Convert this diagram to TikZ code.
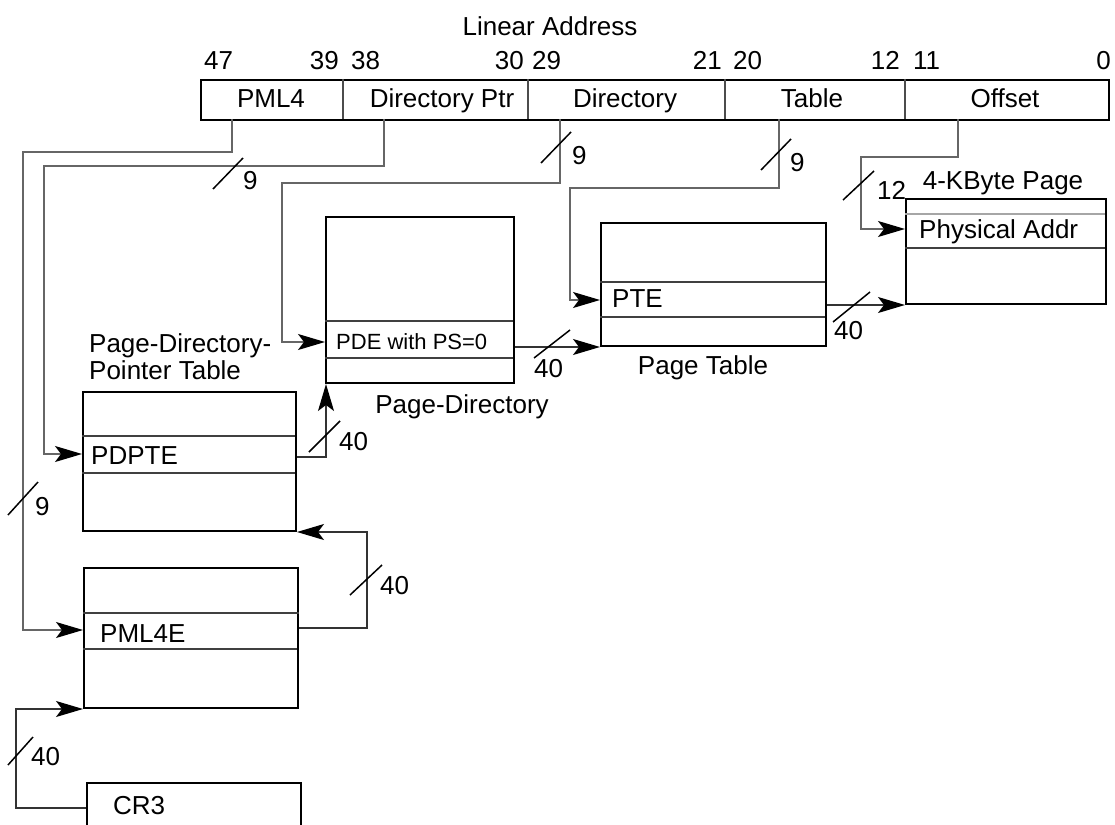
\documentclass[tikz,border=0pt]{standalone}
\usepackage{fontspec}
\setmainfont{Liberation Sans}
\usetikzlibrary{arrows.meta,calc}
\begin{document}
\begin{tikzpicture}[x=1pt,y=-1pt,
  box/.style={draw=black,line width=2pt,inner sep=0pt,anchor=north west},
  row/.style={draw=black!75,line width=1.4pt},
  wire/.style={draw=black!60,line width=1.3pt},
  arr/.style={-{Stealth[length=27pt,width=16pt,inset=6pt,black]}},
  txt/.style={font=\fontsize{26}{27}\selectfont,inner sep=0pt},
  small/.style={font=\fontsize{22}{26}\selectfont,inner sep=0pt},
  slashln/.style={draw=black,line width=1.5pt}]
\useasboundingbox (0,0) rectangle (1115,824);

% ---------- linear address bar ----------
\node[txt,anchor=base] (title) at (550,36) {Linear Address};
\node[box,line width=1.6pt,minimum width=908pt,minimum height=40pt] (bar) at (200,79) {};
\foreach \x in {343,528,725,905} \draw[draw=black!70,line width=1.2pt] (\x,79) -- (\x,119);
\node[txt,anchor=base west] (b47) at (204,70) {47};
\node[txt,anchor=base east] (b39) at (339,70) {39};
\node[txt,anchor=base west] (b38) at (351,70) {38};
\node[txt,anchor=base east] (b30) at (524,70) {30};
\node[txt,anchor=base west] (b29) at (532,70) {29};
\node[txt,anchor=base east] (b21) at (722,70) {21};
\node[txt,anchor=base west] (b20) at (733,70) {20};
\node[txt,anchor=base east] (b12) at (900,70) {12};
\node[txt,anchor=base west] (b11) at (913,70) {11};
\node[txt,anchor=base east] (b0) at (1111,70) {0};
\node[txt,anchor=base] (fPML4) at (271,108) {PML4};
\node[txt,anchor=base] (fDP) at (442,108) {Directory Ptr};
\node[txt,anchor=base] (fDir) at (625,108) {Directory};
\node[txt,anchor=base] (fTab) at (812,108) {Table};
\node[txt,anchor=base] (fOff) at (1005,108) {Offset};
\coordinate (tPML4) at (232,119);
\coordinate (tDP) at (384,119);
\coordinate (tDir) at (560,119);
\coordinate (tTab) at (779,119);
\coordinate (tOff) at (958,119);

% ---------- tables ----------
% Page directory
\node[box,minimum width=188pt,minimum height=166pt] (pd) at (325,216) {};
\draw[row] (325,321) -- (513,321);
\draw[row] (325,358) -- (513,358);
\node[small,anchor=base west] (pde) at (336,349) {PDE with PS=0};
\node[txt,anchor=base] (pdlbl) at (462,413) {Page-Directory};

% Page table
\node[box,minimum width=225pt,minimum height=123pt] (pt) at (600,222) {};
\draw[row] (600,282) -- (825,282);
\draw[row] (600,317) -- (825,317);
\node[txt,anchor=base west] (pte) at (612,307) {PTE};
\node[txt,anchor=base] (ptlbl) at (703,374) {Page Table};

% 4-KByte page
\node[box,minimum width=200pt,minimum height=105pt] (pg) at (905,198) {};
\draw[draw=black!35,line width=1.4pt] (905,214) -- (1105,214);
\draw[row] (905,248) -- (1105,248);
\node[txt,anchor=base west] (pa) at (919,238) {Physical Addr};
\node[txt,anchor=base] (pglbl) at (1003,189) {4-KByte Page};

% Page-directory-pointer table
\node[box,minimum width=213pt,minimum height=139pt] (pdpt) at (82,391) {};
\draw[row] (82,436) -- (295,436);
\draw[row] (82,473) -- (295,473);
\node[txt,anchor=base west] (pdpte) at (91,464) {PDPTE};
\node[txt,anchor=base west,align=left] (pdptlbl) at (89,379) {Page-Directory-\\Pointer Table};

% PML4 table
\node[box,minimum width=214pt,minimum height=140pt] (pml4) at (83,567) {};
\draw[row] (83,613) -- (299,613);
\draw[row] (83,649) -- (297,649);
\node[txt,anchor=base west] (pml4e) at (100,642) {PML4E};

% CR3
\node[box,minimum width=214pt,minimum height=60pt] (cr3) at (86,782) {};
\node[txt,anchor=base west] (cr3t) at (113,814) {CR3};

% ---------- connectors ----------
\draw[wire,arr] (tPML4) -- (232,152) -- (23,152) |- (pml4.west |- 0,630);
\draw[wire,arr] (tDP) -- (384,166) -- (44,166) |- (pdpt.west |- 0,454);
\draw[wire,arr] (tDir) -- (560,183) -- (282,183) |- (pd.west |- 0,342);
\draw[wire,arr] (tTab) -- (779,188) -- (570,188) |- (pt.west |- 0,300);
\draw[wire,arr] (tOff) -- (958,157) -- (861,157) |- (pg.west |- 0,229);

\draw[wire,draw=black!80,arr] (pd.east |- pt.south west) -- (pt.south west);
\draw[wire,draw=black!80,arr] (pt.east |- pg.south west) -- (pg.south west);
\draw[wire,draw=black!80,arr] (pdpt.east |- 0,457) -| ([xshift=1pt]pd.south west);
\draw[wire,draw=black!80,arr] (pml4.east |- 0,628) -- (367,628) |- (pdpt.south east);
\draw[wire,draw=black!80,arr] (cr3.west |- 0,808) -- (16,808) |- (pml4.south west);

% ---------- width slashes ----------
\draw[slashln] (213,189) -- (243,158);
\node[txt,anchor=base west] (s1) at (243,189) {9};
\draw[slashln] (8,515) -- (38,482);
\node[txt,anchor=base west] (s2) at (35,515) {9};
\draw[slashln] (541,163) -- (571,132);
\node[txt,anchor=base west] (s3) at (572,164) {9};
\draw[slashln] (761,170) -- (791,139);
\node[txt,anchor=base west] (s4) at (790,171) {9};
\draw[slashln] (843,200) -- (874,171);
\node[txt,anchor=base west] (s5) at (877,199) {12};
\draw[slashln] (534,358) -- (570,330);
\node[txt,anchor=base west] (s6) at (534,377) {40};
\draw[slashln] (833,322) -- (870,292);
\node[txt,anchor=base west] (s7) at (834,339) {40};
\draw[slashln] (309,452) -- (340,421);
\node[txt,anchor=base west] (s8) at (339,450) {40};
\draw[slashln] (350,595) -- (382,565);
\node[txt,anchor=base west] (s9) at (380,594) {40};
\draw[slashln] (8,765) -- (33,737);
\node[txt,anchor=base west] (s10) at (31,765) {40};
\end{tikzpicture}
\end{document}
